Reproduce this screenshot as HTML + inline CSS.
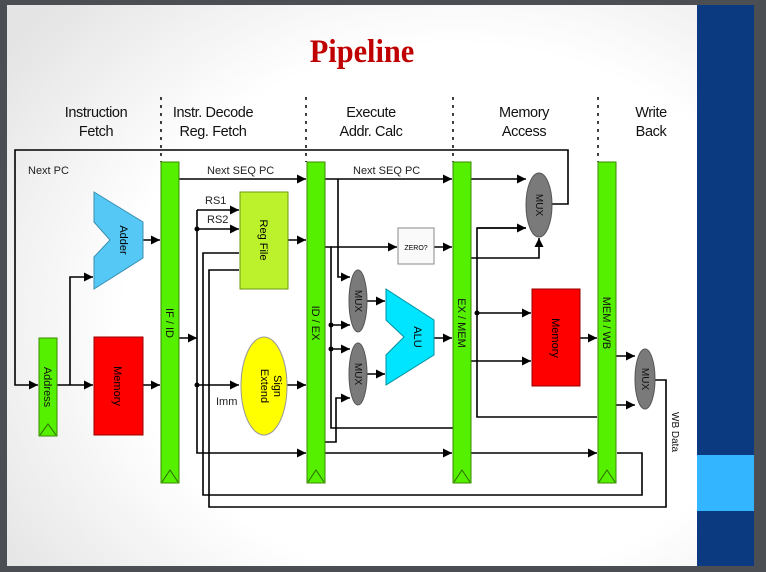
<!DOCTYPE html>
<html><head><meta charset="utf-8"><style>
html,body{margin:0;padding:0;width:766px;height:572px;overflow:hidden;background:#4b4f53}
svg{display:block}
text{font-family:"Liberation Sans",sans-serif;}
</style></head><body>
<svg width="766" height="572" viewBox="0 0 766 572" xmlns="http://www.w3.org/2000/svg">
<defs>
<radialGradient id="bg" cx="0.65" cy="0.55" r="0.8">
<stop offset="0.6" stop-color="#ffffff"/><stop offset="1" stop-color="#e4e4e4"/>
</radialGradient>
<marker id="a" viewBox="0 0 10 10" refX="10" refY="5" markerWidth="9" markerHeight="9" markerUnits="userSpaceOnUse" orient="auto"><path d="M0,0L10,5L0,10z" fill="#000"/></marker>
</defs>
<rect x="0" y="0" width="766" height="572" fill="#4b4f53"/>
<rect x="7" y="5" width="690" height="561" fill="url(#bg)"/>
<rect x="697" y="5" width="57" height="561" fill="#0b3a80"/>
<rect x="697" y="455" width="57" height="56" fill="#33b5ff"/>
<text x="362" y="62" text-anchor="middle" font-weight="bold" font-size="33" fill="#c00000" style="font-family:'Liberation Serif',serif" transform="translate(362,0) scale(0.92,1) translate(-362,0)">Pipeline</text>
<g font-size="14.5" fill="#111" text-anchor="middle" letter-spacing="-0.4">
<text x="96" y="117">Instruction</text><text x="96" y="136">Fetch</text>
<text x="213" y="117">Instr. Decode</text><text x="213" y="136">Reg. Fetch</text>
<text x="371" y="117">Execute</text><text x="371" y="136">Addr. Calc</text>
<text x="524" y="117">Memory</text><text x="524" y="136">Access</text>
<text x="651" y="117">Write</text><text x="651" y="136">Back</text>
</g>
<g stroke="#000" stroke-width="1.5" stroke-dasharray="3,5">
<line x1="161" y1="97" x2="161" y2="162"/><line x1="306" y1="97" x2="306" y2="162"/>
<line x1="453" y1="97" x2="453" y2="162"/><line x1="598" y1="97" x2="598" y2="162"/>
</g>
<g stroke="#000" stroke-width="1.6" fill="none">
<path d="M552,204H568V150H15V385H38" marker-end="url(#a)"/>
<path d="M57,385H93" marker-end="url(#a)"/>
<path d="M70,385V277H93" marker-end="url(#a)"/>
<path d="M143,385H160" marker-end="url(#a)"/>
<path d="M143,240H160" marker-end="url(#a)"/>
<path d="M179,338H197" marker-end="url(#a)"/>
<path d="M197,210V453H306" marker-end="url(#a)"/>
<path d="M197,210H239" marker-end="url(#a)"/>
<path d="M197,229H239" marker-end="url(#a)"/>
<path d="M197,385H239" marker-end="url(#a)"/>
<path d="M239,253H203V495H642V453H617"/>
<path d="M239,270H209V507H666V380H655"/>
<path d="M179,179H306" marker-end="url(#a)"/>
<path d="M288,240H306" marker-end="url(#a)"/>
<path d="M287,385H306" marker-end="url(#a)"/>
<path d="M325,179H452" marker-end="url(#a)"/>
<path d="M338,179V277H350" marker-end="url(#a)"/>
<path d="M325,247H331V428H453"/>
<path d="M331,247H397" marker-end="url(#a)"/>
<path d="M331,325H350" marker-end="url(#a)"/>
<path d="M331,349H350" marker-end="url(#a)"/>
<path d="M325,442H336V398H350" marker-end="url(#a)"/>
<path d="M367,301H385" marker-end="url(#a)"/>
<path d="M367,374H385" marker-end="url(#a)"/>
<path d="M434,338H452" marker-end="url(#a)"/>
<path d="M434,247H452" marker-end="url(#a)"/>
<path d="M325,453H452" marker-end="url(#a)"/>
<path d="M471,179H526" marker-end="url(#a)"/>
<path d="M471,258H539V238" marker-end="url(#a)"/>
<path d="M526,228H477V417H597"/>
<path d="M477,228H526" marker-end="url(#a)"/>
<path d="M477,313H531" marker-end="url(#a)"/>
<path d="M471,361H531" marker-end="url(#a)"/>
<path d="M580,338H597" marker-end="url(#a)"/>
<path d="M471,453H597" marker-end="url(#a)"/>
<path d="M616,356H635" marker-end="url(#a)"/>
<path d="M616,405H635" marker-end="url(#a)"/>
</g>
<g fill="#000">
<circle cx="197" cy="229" r="2.5"/><circle cx="197" cy="385" r="2.5"/>
<circle cx="331" cy="325" r="2.5"/><circle cx="331" cy="349" r="2.5"/>
<circle cx="477" cy="313" r="2.5"/>
</g>
<g font-size="11" fill="#222">
<text x="28" y="174">Next PC</text>
<text x="207" y="174">Next SEQ PC</text>
<text x="353" y="174">Next SEQ PC</text>
<text x="205" y="204">RS1</text>
<text x="207" y="223">RS2</text>
<text x="216" y="405">Imm</text>
</g>
<g stroke="#3a8a00" stroke-width="1" fill="#55f000">
<rect x="161" y="162" width="18" height="321"/>
<rect x="307" y="162" width="18" height="321"/>
<rect x="453" y="162" width="18" height="321"/>
<rect x="598" y="162" width="18" height="321"/>
<rect x="39" y="338" width="18" height="98"/>
</g>
<g stroke="#2a6a00" stroke-width="1" fill="none">
<path d="M162,482L170,470L178,482"/><path d="M308,482L316,470L324,482"/>
<path d="M454,482L462,470L470,482"/><path d="M599,482L607,470L615,482"/>
<path d="M40,435L48,424L56,435"/>
</g>
<g font-size="11" fill="#111" text-anchor="middle">
<text transform="translate(166,323) rotate(90)">IF / ID</text>
<text transform="translate(312,323) rotate(90)">ID / EX</text>
<text transform="translate(458,323) rotate(90)">EX / MEM</text>
<text transform="translate(603,323) rotate(90)">MEM / WB</text>
<text transform="translate(44,387) rotate(90)">Address</text>
</g>
<path d="M94,192L143,222V258L94,289V257L110,240L94,222Z" fill="#55c8f5" stroke="#3a90b0"/>
<text transform="translate(120,240) rotate(90)" font-size="11" text-anchor="middle">Adder</text>
<rect x="94" y="337" width="49" height="98" fill="#ff0000" stroke="#900"/>
<text transform="translate(114,386) rotate(90)" font-size="11" text-anchor="middle">Memory</text>
<rect x="240" y="192" width="48" height="97" fill="#bcf22c" stroke="#6a9a10"/>
<text transform="translate(260,240) rotate(90)" font-size="11" text-anchor="middle">Reg File</text>
<ellipse cx="264" cy="386" rx="23" ry="49" fill="#ffff00" stroke="#999"/>
<text transform="translate(268,386) rotate(90)" font-size="11" text-anchor="middle"><tspan x="0" y="-6">Sign</tspan><tspan x="0" y="7">Extend</tspan></text>
<path d="M386,289L434,320V355L386,385V355L404,337L386,320Z" fill="#00e5ff" stroke="#0090a0"/>
<text transform="translate(414,337) rotate(90)" font-size="11" text-anchor="middle">ALU</text>
<rect x="398" y="228" width="36" height="36" fill="#fafafa" stroke="#888"/>
<text x="416" y="250" font-size="7" text-anchor="middle">ZERO?</text>
<rect x="532" y="289" width="48" height="97" fill="#ff0000" stroke="#900"/>
<text transform="translate(552,338) rotate(90)" font-size="11" text-anchor="middle">Memory</text>
<g fill="#7a7a7a" stroke="#555">
<ellipse cx="358" cy="301" rx="9" ry="31"/>
<ellipse cx="358" cy="374" rx="9" ry="31"/>
<ellipse cx="539" cy="205" rx="13" ry="32"/>
<ellipse cx="645" cy="379" rx="10" ry="30"/>
</g>
<g font-size="10" text-anchor="middle" fill="#111">
<text transform="translate(355,301) rotate(90)">MUX</text>
<text transform="translate(355,374) rotate(90)">MUX</text>
<text transform="translate(536,205) rotate(90)">MUX</text>
<text transform="translate(642,379) rotate(90)">MUX</text>
<text transform="translate(672,432) rotate(90)">WB Data</text>
</g>
</svg>
</body></html>
